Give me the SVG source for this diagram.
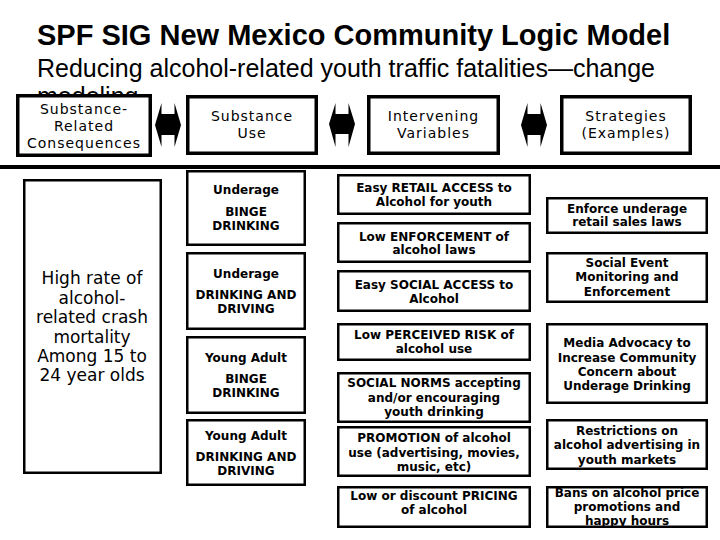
<svg xmlns="http://www.w3.org/2000/svg" width="720" height="540" viewBox="0 0 720 540">
<style>
.title{font-family:"Liberation Sans",Arial,sans-serif;font-weight:bold;font-size:29px;fill:#000}
.sub{font-family:"Liberation Sans",Arial,sans-serif;font-size:25px;fill:#000}
.hbox{fill:#fff;stroke:#000;stroke-width:3.5}
.box{fill:#fff;stroke:#000;stroke-width:2.5}
.ht{font-family:"DejaVu Sans",Verdana,sans-serif;font-size:14px;letter-spacing:1px;text-anchor:middle;fill:#000}
.bt{font-family:"DejaVu Sans",Verdana,sans-serif;font-size:12px;font-weight:bold;text-anchor:middle;fill:#000}
.big{font-family:"DejaVu Sans",Verdana,sans-serif;font-size:17px;text-anchor:middle;fill:#000}
.arr{fill:#000}
</style>
<defs>
<clipPath id="cut"><rect x="0" y="80" width="720" height="14"/></clipPath>
</defs>
<rect width="720" height="540" fill="#fff"/>
<text class="title" x="37" y="45">SPF SIG New Mexico Community Logic Model</text>
<text class="sub" x="37" y="77">Reducing alcohol-related youth traffic fatalities—change</text>
<text class="sub" x="37" y="105" clip-path="url(#cut)">modeling</text>

<g id="h-consequences">
<rect class="hbox" x="17.75" y="95.75" width="132.5" height="59.5"/>
<text class="ht" x="84" y="114">Substance-</text>
<text class="ht" x="84" y="131">Related</text>
<text class="ht" x="84" y="148">Consequences</text>
</g>
<g id="h-use">
<rect class="hbox" x="187.75" y="96.75" width="128.5" height="56.5"/>
<text class="ht" x="252" y="121">Substance</text>
<text class="ht" x="252" y="138">Use</text>
</g>
<g id="h-intervening">
<rect class="hbox" x="368.75" y="96.75" width="129.5" height="56.5"/>
<text class="ht" x="433.5" y="121">Intervening</text>
<text class="ht" x="433.5" y="138">Variables</text>
</g>
<g id="h-strategies">
<rect class="hbox" x="561.75" y="96.75" width="128.5" height="56.5"/>
<text class="ht" x="626" y="121">Strategies</text>
<text class="ht" x="626" y="138">(Examples)</text>
</g>

<g id="connectors">
<polygon class="arr" points="155,125 161.5,103 161.5,114 174.5,114 174.5,103 181,125 174.5,147 174.5,135 161.5,135 161.5,147"/>
<polygon class="arr" points="329,124 335.5,103 335.5,114 348.5,114 348.5,103 355,124 348.5,147 348.5,134 335.5,134 335.5,147"/>
<polygon class="arr" points="521,125 527.5,103 527.5,114 540.5,114 540.5,103 547,125 540.5,147 540.5,135 527.5,135 527.5,147"/>
<line x1="0" y1="167" x2="720" y2="167" stroke="#000" stroke-width="4"/>
</g>

<g id="consequence">
<rect class="box" x="24.25" y="180.25" width="136.5" height="292.5"/>
<text class="big" x="92" y="284">High rate of</text>
<text class="big" x="92" y="303.5">alcohol-</text>
<text class="big" x="92" y="323">related crash</text>
<text class="big" x="92" y="342.5">mortality</text>
<text class="big" x="92" y="362">Among 15 to</text>
<text class="big" x="92" y="381">24 year olds</text>
</g>

<g id="use-1">
<rect class="box" x="187.25" y="171.25" width="117.5" height="73.5"/>
<text class="bt" x="246" y="194">Underage</text>
<text class="bt" x="246" y="215.5">BINGE</text>
<text class="bt" x="246" y="229.5">DRINKING</text>
</g>
<g id="use-2">
<rect class="box" x="187.25" y="253.25" width="117.5" height="75.5"/>
<text class="bt" x="246" y="278">Underage</text>
<text class="bt" x="246" y="299">DRINKING AND</text>
<text class="bt" x="246" y="313">DRIVING</text>
</g>
<g id="use-3">
<rect class="box" x="187.25" y="337.25" width="117.5" height="75.5"/>
<text class="bt" x="246" y="362">Young Adult</text>
<text class="bt" x="246" y="383">BINGE</text>
<text class="bt" x="246" y="397">DRINKING</text>
</g>
<g id="use-4">
<rect class="box" x="187.25" y="420.25" width="117.5" height="64.5"/>
<text class="bt" x="246" y="440">Young Adult</text>
<text class="bt" x="246" y="461">DRINKING AND</text>
<text class="bt" x="246" y="475">DRIVING</text>
</g>

<g id="iv-1">
<rect class="box" x="338.25" y="175.25" width="191.5" height="38.5"/>
<text class="bt" x="434" y="192">Easy RETAIL ACCESS to</text>
<text class="bt" x="434" y="206">Alcohol for youth</text>
</g>
<g id="iv-2">
<rect class="box" x="338.25" y="223.25" width="191.5" height="38.5"/>
<text class="bt" x="434" y="241">Low ENFORCEMENT of</text>
<text class="bt" x="434" y="254">alcohol laws</text>
</g>
<g id="iv-3">
<rect class="box" x="338.25" y="271.25" width="191.5" height="39.5"/>
<text class="bt" x="434" y="289">Easy SOCIAL ACCESS to</text>
<text class="bt" x="434" y="303">Alcohol</text>
</g>
<g id="iv-4">
<rect class="box" x="338.25" y="324.25" width="191.5" height="35.5"/>
<text class="bt" x="434" y="339">Low PERCEIVED RISK of</text>
<text class="bt" x="434" y="353">alcohol use</text>
</g>
<g id="iv-5">
<rect class="box" x="338.25" y="373.25" width="191.5" height="48.5"/>
<text class="bt" x="434" y="387">SOCIAL NORMS accepting</text>
<text class="bt" x="434" y="402">and/or encouraging</text>
<text class="bt" x="434" y="416">youth drinking</text>
</g>
<g id="iv-6">
<rect class="box" x="338.25" y="427.25" width="191.5" height="48.5"/>
<text class="bt" x="434" y="442">PROMOTION of alcohol</text>
<text class="bt" x="434" y="457">use (advertising, movies,</text>
<text class="bt" x="434" y="471">music, etc)</text>
</g>
<g id="iv-7">
<rect class="box" x="338.25" y="487.25" width="191.5" height="39.5"/>
<text class="bt" x="434" y="500">Low or discount PRICING</text>
<text class="bt" x="434" y="514">of alcohol</text>
</g>

<g id="st-1">
<rect class="box" x="547.25" y="198.25" width="159.5" height="34.5"/>
<text class="bt" x="627" y="213">Enforce underage</text>
<text class="bt" x="627" y="226">retail sales laws</text>
</g>
<g id="st-2">
<rect class="box" x="547.25" y="253.25" width="159.5" height="48.5"/>
<text class="bt" x="627" y="267">Social Event</text>
<text class="bt" x="627" y="281">Monitoring and</text>
<text class="bt" x="627" y="296">Enforcement</text>
</g>
<g id="st-3">
<rect class="box" x="547.25" y="324.25" width="159.5" height="78.5"/>
<text class="bt" x="627" y="347">Media Advocacy to</text>
<text class="bt" x="627" y="362">Increase Community</text>
<text class="bt" x="627" y="376">Concern about</text>
<text class="bt" x="627" y="390">Underage Drinking</text>
</g>
<g id="st-4">
<rect class="box" x="547.25" y="420.25" width="159.5" height="48.5"/>
<text class="bt" x="627" y="435">Restrictions on</text>
<text class="bt" x="627" y="449">alcohol advertising in</text>
<text class="bt" x="627" y="464">youth markets</text>
</g>
<g id="st-5">
<rect class="box" x="547.25" y="487.25" width="159.5" height="39.5"/>
<text class="bt" x="627" y="497">Bans on alcohol price</text>
<text class="bt" x="627" y="511">promotions and</text>
<text class="bt" x="627" y="525">happy hours</text>
</g>
</svg>
